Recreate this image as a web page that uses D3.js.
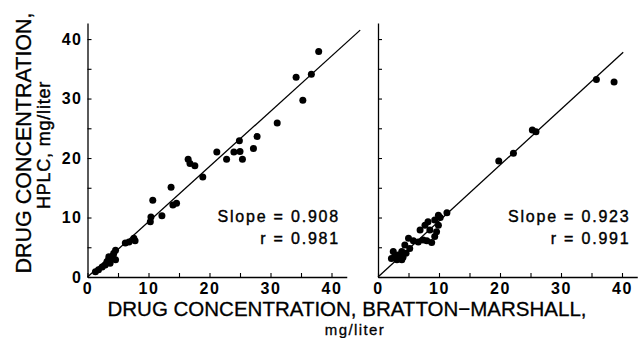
<!DOCTYPE html>
<html>
<head>
<meta charset="utf-8">
<script src="https://cdn.jsdelivr.net/npm/d3@7"></script>
<style>
  body { margin: 0; background: #fff; }
  svg { display: block; }
  text { font-family: "Liberation Sans", Arial, sans-serif; fill: #000; }
</style>
</head>
<body>
<div id="chart"></div>
<script>
// Left panel: Bratton-Marshall (x) vs HPLC (y)
const leftPoints = [
    [37.9, 37.9], [34.2, 33.6], [36.7, 34.1], [35.3, 29.7], [31.1, 25.9],
    [27.8, 23.6], [27.2, 21.6], [24.9, 22.9], [25.0, 21.1], [24.0, 21.0],
    [25.4, 19.8], [22.8, 19.8], [21.2, 21.0], [18.9, 16.8], [16.5, 19.8],
    [16.8, 19.1], [17.6, 18.7], [13.7, 15.1], [10.7, 12.9], [14.0, 12.1],
    [14.6, 12.4], [10.4, 10.1], [10.3, 9.3], [12.2, 10.3],
    [7.6, 6.5], [6.8, 5.9], [6.2, 5.7], [7.8, 6.1], [4.6, 4.5], [4.3, 4.0],
    [3.5, 3.4], [4.0, 3.1], [4.6, 2.9], [3.2, 2.6], [3.7, 2.3], [2.4, 1.7],
    [1.8, 1.2], [1.3, 0.9], [2.9, 2.0], [3.5, 3.0], [4.2, 3.6]
];
const leftFit = [[0, 0], [44.7, 41.5]];
const leftStats = ['Slope = 0.908', 'r = 0.981'];

// Right panel
const rightPoints = [
    [35.8, 33.2], [38.7, 32.8], [25.3, 24.7], [25.9, 24.4], [22.2, 20.8],
    [19.8, 19.5], [11.3, 10.8], [9.9, 10.4], [10.2, 10.0], [9.3, 9.6],
    [8.2, 9.3], [7.7, 8.7], [9.9, 8.7], [6.9, 7.9], [9.6, 7.6], [8.5, 7.9],
    [9.3, 6.8], [8.0, 6.1], [8.8, 5.8], [7.4, 6.2], [5.0, 6.5], [5.8, 6.1],
    [6.6, 5.9], [4.4, 5.4], [5.2, 4.8], [3.9, 4.3], [4.6, 4.0], [2.5, 4.3],
    [3.3, 3.7], [4.1, 3.3], [2.2, 3.1], [3.1, 2.9], [3.9, 2.9], [2.8, 3.5]
];
const rightFit = [[0, 0], [40.2, 37.8]];
const rightStats = ['Slope = 0.923', 'r = 0.991'];

const majorTicks = [0, 10, 20, 30, 40];
const allTicks = [0, 5, 10, 15, 20, 25, 30, 35, 40];

const WIDTH = 639;
const HEIGHT = 338;
const AXIS_Y = 277;
const TOP_Y = 23;

const svg = d3.select('#chart')
    .append('svg')
    .attr('width', WIDTH)
    .attr('height', HEIGHT);

const yScale = d3.scaleLinear()
    .domain([0, 42.7])
    .range([AXIS_Y, TOP_Y]);

function drawPanel(left, points, fit, stats, showYLabels) {
    const xScale = d3.scaleLinear()
        .domain([0, 42.5])
        .range([left, left + 42.5 * 6.1]);

    const g = svg.append('g');

    // y axis: inward ticks
    g.append('g')
        .attr('transform', `translate(${left}, 0)`)
        .call(d3.axisRight(yScale).tickValues(allTicks).tickSize(4).tickSizeOuter(0).tickFormat(''));
    if (showYLabels) {
        const yl = g.append('g')
            .attr('transform', `translate(${left}, 0)`)
            .call(d3.axisLeft(yScale).tickValues(majorTicks).tickSize(0).tickPadding(5));
        yl.select('.domain').remove();
        yl.selectAll('text')
            .style('font-family', '"Liberation Sans", Arial, sans-serif')
            .style('font-size', '16px').style('font-weight', 'bold')
            .attr('letter-spacing', 1.5);
    }

    // x axis: inward ticks
    g.append('g')
        .attr('transform', `translate(0, ${AXIS_Y})`)
        .call(d3.axisTop(xScale).tickValues(allTicks).tickSize(4).tickSizeOuter(0).tickFormat(''));
    const xl = g.append('g')
        .attr('transform', `translate(0, ${AXIS_Y})`)
        .call(d3.axisBottom(xScale).tickValues(majorTicks).tickSize(0).tickPadding(6));
    xl.select('.domain').remove();
    xl.selectAll('text')
        .style('font-family', '"Liberation Sans", Arial, sans-serif')
        .style('font-size', '16px').style('font-weight', 'bold')
        .attr('letter-spacing', 1.5);

    g.selectAll('.domain').attr('stroke-width', 1.3);
    g.selectAll('.tick line').attr('stroke-width', 1.1);

    // fit line
    g.append('line')
        .attr('x1', xScale(fit[0][0])).attr('y1', yScale(fit[0][1]))
        .attr('x2', xScale(fit[1][0])).attr('y2', yScale(fit[1][1]))
        .attr('stroke', '#000')
        .attr('stroke-width', 1.3);

    // points
    g.selectAll('circle')
        .data(points)
        .enter()
        .append('circle')
        .attr('cx', d => xScale(d[0]))
        .attr('cy', d => yScale(d[1]))
        .attr('r', 3.5)
        .attr('fill', '#000');

    // stats
    g.selectAll('text.stat')
        .data(stats)
        .enter()
        .append('text')
        .attr('class', 'stat')
        .attr('x', xScale(41.4))
        .attr('y', (d, i) => 222 + i * 22)
        .attr('text-anchor', 'end')
        .attr('font-size', 16)
        .attr('letter-spacing', 1.8)
        .attr('stroke', '#000')
        .attr('stroke-width', 0.4)
        .text(d => d);
}

drawPanel(87.5, leftPoints, leftFit, leftStats, true);
drawPanel(378, rightPoints, rightFit, rightStats, false);

// axis titles
svg.append('text')
    .attr('x', 347)
    .attr('y', 316)
    .attr('text-anchor', 'middle')
    .attr('font-size', 20.5)
    .attr('stroke', '#000').attr('stroke-width', 0.3)
    .text('DRUG CONCENTRATION, BRATTON\u2212MARSHALL,');
svg.append('text')
    .attr('x', 355)
    .attr('y', 334.5)
    .attr('text-anchor', 'middle')
    .attr('font-size', 15)
    .attr('letter-spacing', 1.4)
    .attr('stroke', '#000').attr('stroke-width', 0.3)
    .text('mg/liter');

svg.append('text')
    .attr('transform', 'translate(31, 143) rotate(-90)')
    .attr('text-anchor', 'middle')
    .attr('font-size', 21.5)
    .attr('stroke', '#000').attr('stroke-width', 0.3)
    .text('DRUG CONCENTRATION,');
svg.append('text')
    .attr('transform', 'translate(50, 145) rotate(-90)')
    .attr('text-anchor', 'middle')
    .attr('font-size', 18)
    .attr('letter-spacing', 0.8)
    .attr('stroke', '#000').attr('stroke-width', 0.4)
    .text('HPLC, mg/liter');
</script>
</body>
</html>
